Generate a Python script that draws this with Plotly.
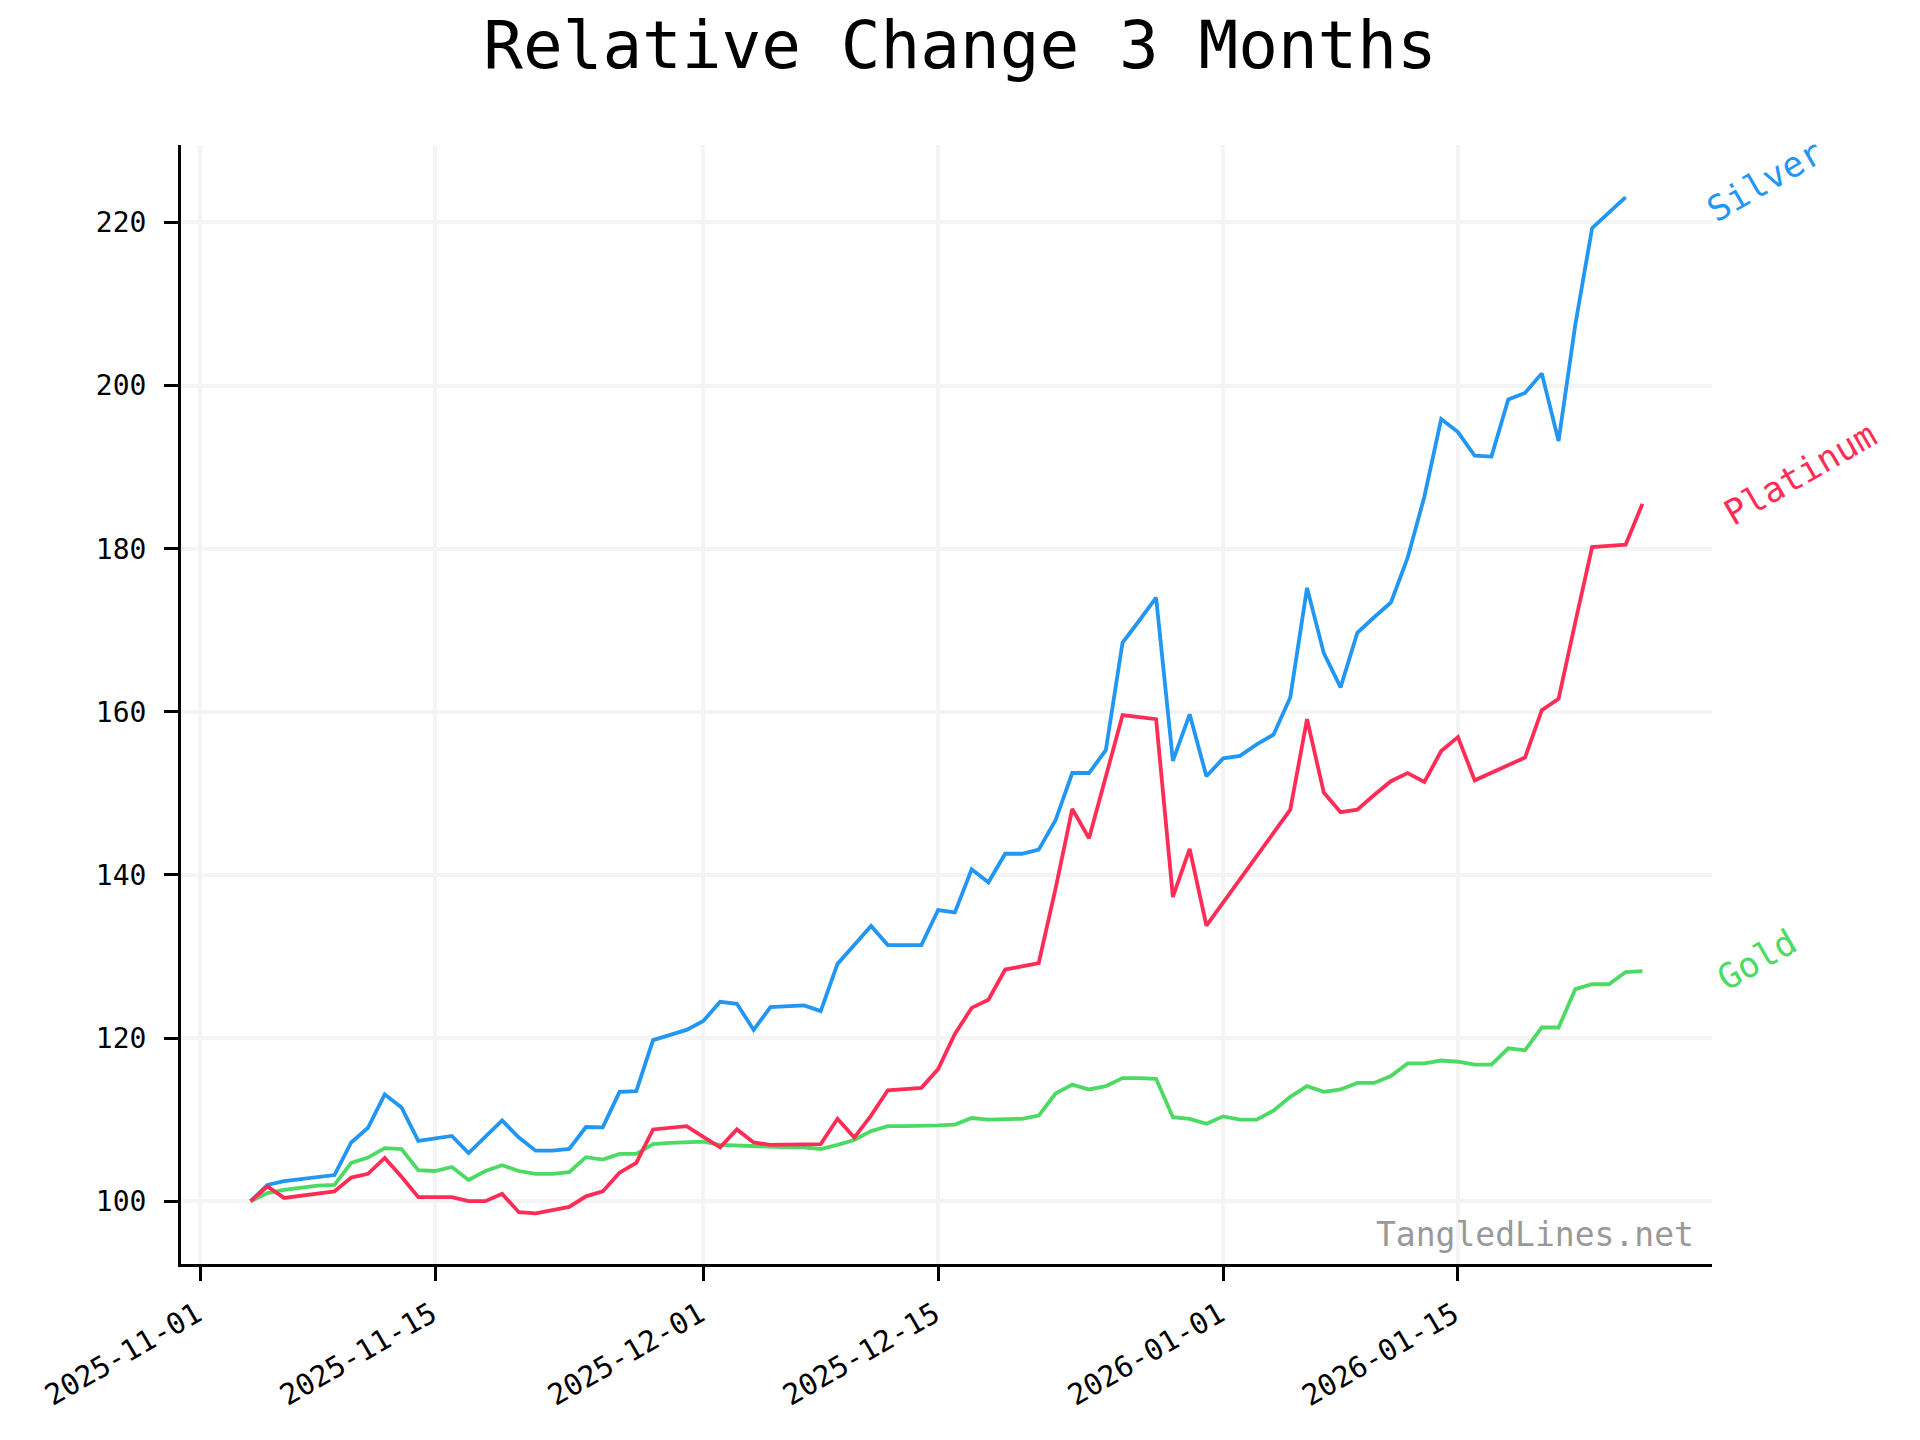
import pandas as pd
import plotly.graph_objects as go

# ---- data ----
dates = pd.date_range("2025-11-04", "2026-01-26", freq="D")

gold = [
    100.0, 101.0, 101.4, 101.7, 101.9, 102.0, 104.7, 105.35, 106.5, 106.4,
    103.8, 103.7, 104.2, 102.6, 103.7, 104.4, 103.7, 103.35, 103.35, 103.55,
    105.4, 105.1, 105.8, 105.8, 107.0, 107.15, 107.2,
    107.3, 106.9, 106.8, 106.7, 106.6, 106.6, 106.6, 106.4, 106.9, 107.5,
    108.6, 109.2, 109.2, 109.2, 109.3, 109.4, 110.2, 110.0, 110.1, 110.1,
    110.5, 113.2, 114.3, 113.7, 114.1, 115.1, 115.1, 115.0, 110.3, 110.1,
    109.5,
    110.4, 110.0, 110.0, 111.1, 112.8, 114.1, 113.4, 113.7, 114.5, 114.5,
    115.35, 116.9, 116.9, 117.25, 117.1, 116.75, 116.75, 118.75, 118.5, 121.3,
    121.3, 126.0, 126.6, 126.6, 128.1, 128.2,
]

platinum = [
    100.0, 101.8, 100.4, 100.7, 100.9, 101.2, 102.9, 103.35, 105.3, 103.0,
    100.5, 100.5, 100.5, 100.0, 100.0, 100.9, 98.65, 98.5, 98.9, 99.3,
    100.6, 101.2, 103.5, 104.7, 108.8, 109.05, 109.2,
    107.9, 106.6, 108.8, 107.2, 106.9, 106.9, 106.9, 107.0, 110.1, 107.8,
    110.5, 113.6, 113.75, 113.9, 116.2, 120.5, 123.7, 124.7, 128.4, 128.8,
    129.2, 138.3, 148.1, 144.5, None, 159.6, 159.35, 159.1, 137.3, 143.2,
    133.8,
    None, None, None, None, 148.0, 159.1, 150.1, 147.7, 148.0, 149.8,
    151.5, 152.5, 151.4, 155.2, 156.9, 151.6, 152.5, 153.4, 154.4, 160.2,
    161.6, 171.0, 180.2, 180.35, 180.5, 185.5,
]

silver = [
    100.0, 102.0, 102.45, 102.7, 102.95, 103.2, 107.2, 109.0, 113.1, 111.5,
    107.4, 107.65, 108.0, 105.9, 107.9, 109.9, 107.8, 106.2, 106.2, 106.4,
    109.1, 109.05, 113.4, 113.5, 119.75, 120.35, 121.0,
    122.1, 124.45, 124.2, 121.0, 123.8, 123.9, 124.0, 123.3, 129.1, 131.4,
    133.75, 131.4, 131.4, 131.4, 135.7, 135.4, 140.7, 139.1, 142.6, 142.6,
    143.1, 146.7, 152.5, 152.5, 155.3, 168.5, 171.2, 174.0, 154.0, 159.7,
    152.1,
    154.3, 154.6, 156.0, 157.2, 161.75, 175.2, 167.2, 163.0, 169.7, 171.6,
    173.4, 178.9, 186.4, 195.9, 194.3, 191.4, 191.3, 198.3, 199.1, 201.5,
    193.2, 207.5, 219.3, 221.2, 223.1, None,
]

series_names = ["Silver", "Gold", "Platinum"]
series_values = [silver, gold, platinum]
series_colors = ["#2196F3", "#4CD964", "#FF2D55"]

x_tick_vals = ["2025-11-01", "2025-11-15", "2025-12-01", "2025-12-15", "2026-01-01", "2026-01-15"]
y_tick_vals = [100, 120, 140, 160, 180, 200, 220]

FONT = "DejaVu Sans Mono"
OFF = 8  # page body margin compensation
TICK_SIZE = 28

fig = go.Figure()
for name, vals, col in zip(series_names, series_values, series_colors):
    fig.add_trace(go.Scatter(
        x=dates, y=vals, mode="lines", name=name,
        line=dict(color=col, width=3.8),
        connectgaps=True, showlegend=False,
    ))

# end labels (rotated)
label_pos = {"Silver": (1.0346, 16), "Platinum": (1.0575, 30), "Gold": (1.0294, 11)}
for name, vals, col in zip(series_names, series_values, series_colors):
    last = [v for v in vals if v is not None][-1]
    px, ys = label_pos[name]
    fig.add_annotation(
        x=px, xref="paper", y=last, yref="y", yshift=ys,
        text=name, showarrow=False, textangle=-30,
        xanchor="center", yanchor="middle",
        font=dict(family=FONT, size=35, color=col),
    )

# rotated date tick labels (right edge of rotated box at the tick)
for tv in x_tick_vals:
    fig.add_annotation(
        x=tv, xref="x", y=0, yref="paper",
        text=tv, showarrow=False, textangle=-30,
        xanchor="right", yanchor="top", xshift=10, yshift=-29,
        font=dict(family=FONT, size=29, color="black"),
    )

fig.add_annotation(
    x=0.9896, xref="paper", y=0.0268, yref="paper",
    text="TangledLines.net", showarrow=False,
    xanchor="right", yanchor="middle",
    font=dict(family=FONT, size=33, color="#999999"),
)

axis_common = dict(
    showgrid=True, gridcolor="#f4f4f4", gridwidth=4,
    showline=True, linecolor="black", linewidth=3,
    ticks="outside", ticklen=14, tickwidth=3, tickcolor="black",
    tickfont=dict(family=FONT, size=TICK_SIZE, color="black"),
    zeroline=False, mirror=False,
)

fig.update_layout(
    width=1920, height=1440,
    paper_bgcolor="white", plot_bgcolor="white",
    margin=dict(l=181 - OFF, r=208 + OFF, t=145 - OFF, b=176 + OFF),
    title=dict(
        text="Relative Change 3 Months", x=(960 - OFF) / 1920, xanchor="center",
        y=1 - (45 - OFF) / 1440, yref="container", yanchor="middle",
        font=dict(family=FONT, size=66, color="black"),
    ),
    xaxis=dict(
        type="date",
        range=["2025-10-30 20:24", "2026-01-30 03:36"],
        tickvals=x_tick_vals, showticklabels=False,
        **axis_common,
    ),
    yaxis=dict(
        range=[92.3, 229.5], tickvals=y_tick_vals,
        ticklabelstandoff=12,
        **axis_common,
    ),
)

fig.write_html("out.html")
